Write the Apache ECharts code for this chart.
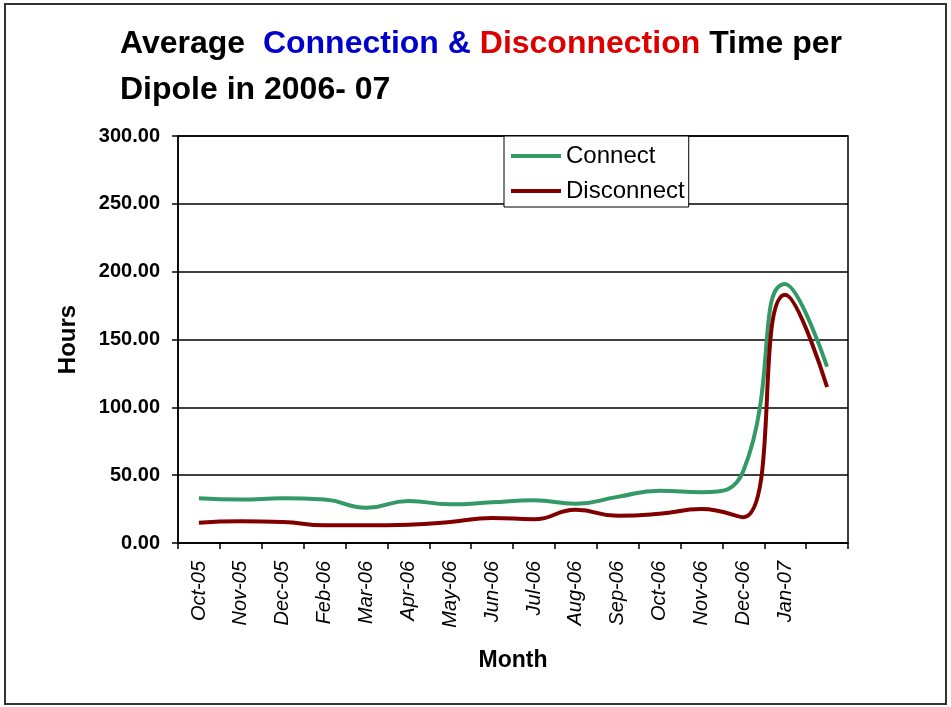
<!DOCTYPE html>
<html>
<head>
<meta charset="utf-8">
<script src="https://cdn.jsdelivr.net/npm/echarts@6/dist/echarts.min.js"></script>
<style>
html, body { margin: 0; padding: 0; background: #fff; }
#chart { width: 951px; height: 707px; }
</style>
</head>
<body>
<div id="chart"></div>
<script>
var months = ['Oct-05','Nov-05','Dec-05','Feb-06','Mar-06','Apr-06','May-06','Jun-06','Jul-06','Aug-06','Sep-06','Oct-06','Nov-06','Dec-06','Jan-07',''];
var connect = [33, 32, 33, 32, 26, 31, 28.5, 30, 31.5, 29, 34, 38.5, 37.5, 53, 191, 130];
var disconnect = [15, 16, 15.5, 13, 13, 13.5, 15.5, 18.5, 17.5, 24.5, 20, 21.5, 25, 19, 183, 115];
var yTicks = [0, 50, 100, 150, 200, 250, 300];

var chart = echarts.init(document.getElementById('chart'));
var font = 'Liberation Sans, Arial, sans-serif';
var option = {
    animation: false,
    color: ['#339966', '#800000'],
    title: {
        left: 115,
        top: 16,
        text: '{k|Average  }{b|Connection & }{r|Disconnection}{k| Time per}\n{k|Dipole in 2006- 07}',
        textStyle: {
            rich: {
                k: { color: '#000', fontSize: 32, fontWeight: 'bold', fontFamily: font, lineHeight: 46 },
                b: { color: '#0000cc', fontSize: 32, fontWeight: 'bold', fontFamily: font, lineHeight: 46 },
                r: { color: '#dd0000', fontSize: 32, fontWeight: 'bold', fontFamily: font, lineHeight: 46 }
            }
        }
    },
    legend: {
        orient: 'vertical',
        left: 504,
        top: 136,
        icon: 'rect',
        itemWidth: 50,
        itemHeight: 4,
        itemGap: 11,
        padding: [8, 4, 4, 7],
        backgroundColor: '#fff',
        borderColor: '#000',
        borderWidth: 1,
        borderRadius: 0,
        textStyle: { fontSize: 24, color: '#000', fontFamily: font },
        data: ['Connect', 'Disconnect']
    },
    grid: {
        left: 178,
        right: 103,
        top: 136,
        bottom: 164,
        show: true,
        borderColor: '#000',
        borderWidth: 1.5
    },
    xAxis: {
        type: 'category',
        data: months,
        boundaryGap: true,
        name: 'Month',
        nameLocation: 'middle',
        nameGap: 106,
        nameTextStyle: { fontSize: 23, fontWeight: 'bold', color: '#000', fontFamily: font },
        axisLine: { lineStyle: { color: '#000', width: 1.5 } },
        axisTick: { show: true, length: 6, lineStyle: { color: '#000', width: 1.5 } },
        axisLabel: {
            interval: 0,
            rotate: 90,
            margin: 18,
            fontSize: 20,
            fontStyle: 'italic',
            color: '#000',
            fontFamily: font
        }
    },
    yAxis: {
        type: 'value',
        min: 0,
        max: 300,
        interval: 50,
        name: 'Hours',
        nameLocation: 'middle',
        nameGap: 98,
        nameTextStyle: { fontSize: 24, fontWeight: 'bold', color: '#000', fontFamily: font },
        axisLine: { show: true, lineStyle: { color: '#000', width: 1.5 } },
        axisTick: { show: true, length: 6, lineStyle: { color: '#000', width: 1.5 } },
        splitLine: { lineStyle: { color: '#000', width: 1.5 } },
        axisLabel: {
            fontSize: 20,
            fontWeight: 'bold',
            color: '#000',
            margin: 18,
            fontFamily: font,
            formatter: function (v) { return yTicks.indexOf(v) >= 0 ? v.toFixed(2) : ''; }
        }
    },
    series: [
        {
            name: 'Connect',
            type: 'line',
            data: connect,
            smooth: 0.5,
            symbol: 'none',
            lineStyle: { width: 4, color: '#339966' }
        },
        {
            name: 'Disconnect',
            type: 'line',
            data: disconnect,
            smooth: 0.5,
            symbol: 'none',
            lineStyle: { width: 4, color: '#800000' }
        }
    ],
    graphic: [
        {
            type: 'rect',
            shape: { x: 5, y: 4, width: 941, height: 700 },
            style: { fill: 'none', stroke: '#333', lineWidth: 2 },
            silent: true
        }
    ]
};
chart.setOption(option);
</script>
</body>
</html>
